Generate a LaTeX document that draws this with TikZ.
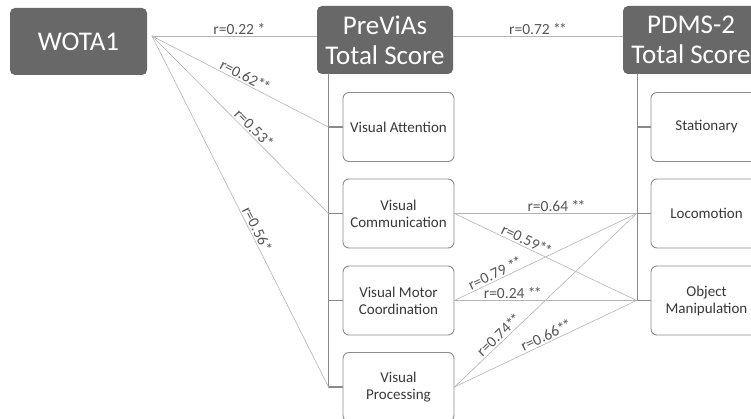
\documentclass[tikz,border=0pt]{standalone}
\usepackage{fontspec}
\setmainfont{Carlito}
\definecolor{headgray}{HTML}{686868}
\definecolor{boxgray}{HTML}{8C8C8C}
\definecolor{spinegray}{HTML}{8A8A8A}
\definecolor{linkgray}{HTML}{B4B4B4}
\definecolor{labgray}{HTML}{555555}
\definecolor{subtext}{HTML}{383838}
\newcommand\twostar{*\kern-1.8pt*}
\begin{document}
\begin{tikzpicture}[x=1pt,y=-1pt,line join=round,line cap=round]
\tikzset{head/.style={fill=headgray,rounded corners=5pt,minimum width=136pt,minimum height=68pt,
    text=white,font=\fontsize{27}{30}\selectfont,align=center,inner sep=0pt},
  sub/.style={draw=boxgray,line width=0.9pt,rounded corners=6pt,minimum width=111pt,minimum height=69pt,
    text=subtext,font=\fontsize{15}{17}\selectfont,align=center,inner sep=0pt},
  spine/.style={draw=spinegray,line width=1.2pt},
  link/.style={draw=linkgray,line width=0.6pt},
  rlab/.style={font=\fontsize{15.5}{17}\selectfont,text=labgray,sloped,above,inner sep=1.5pt}}
\useasboundingbox (0,0) rectangle (751,419);
% heads
\node[head,minimum width=137pt,minimum height=67pt] (wota) at (78.5,41.5) {WOTA1};
\node[head] (previas) at (385,40) {PreViAs\\Total Score};
\node[head] (pdms) at (691,40) {PDMS-2\\Total Score};
% subscales
\node[sub] (vatt) at (398.5,127) {Visual Attention};
\node[sub] (vcom) at (398.5,213.5) {Visual\\Communication};
\node[sub] (vmot) at (398.5,300.5) {Visual Motor\\Coordination};
\node[sub] (vproc) at (398.5,387) {Visual\\Processing};
\node[sub] (stat) at (706.5,127) {Stationary};
\node[sub] (loco) at (706.5,213.5) {Locomotion};
\node[sub] (objm) at (706.5,300.5) {Object\\Manipulation};
\foreach \b in {vatt,vcom,vmot,vproc}
  \draw[spine] ([xshift=12pt]previas.south west) |- (\b.west);
\foreach \b in {stat,loco,objm}
  \draw[spine] ([xshift=15pt]pdms.south west) |- (\b.west);
% link ends
\coordinate (w) at (152,36);
\coordinate (sva) at ([xshift=-14pt]vatt.west);
\coordinate (svc) at ([xshift=-14pt]vcom.west);
\coordinate (svp) at ([xshift=-14pt]vproc.west);
\coordinate (slo) at ([xshift=-14pt]loco.west);
\coordinate (som) at ([xshift=-14pt]objm.west);
% correlations
\draw[link] (w) -- node[rlab,pos=.53]{r=0.22 *} (previas.west |- w);
\draw[link] (w) -- node[rlab,pos=.51]{r=0.62\twostar} (sva);
\draw[link] (w) -- node[rlab,pos=.55]{r=0.53*} (svc);
\draw[link] (w) -- node[rlab,pos=.56]{r=0.56*} (svp);
\draw[link] (previas.east |- w) -- node[rlab]{r=0.72 \twostar} (pdms.west |- w);
\draw[link] (vcom.east) -- node[rlab,pos=.56]{r=0.64 \twostar} (slo);
\draw[link] (vcom.east) -- node[rlab,pos=.38]{r=0.59\twostar} (som);
\draw[link] (vmot.east) -- node[rlab,pos=.24]{r=0.79 \twostar} (slo);
\draw[link] (vmot.east) -- node[rlab,pos=.32]{r=0.24 \twostar} (som);
\draw[link] (vproc.east) -- node[rlab,pos=.27]{r=0.74\twostar} (slo);
\draw[link] (vproc.east) -- node[rlab,pos=.52]{r=0.66\twostar} (som);
\end{tikzpicture}
\end{document}
